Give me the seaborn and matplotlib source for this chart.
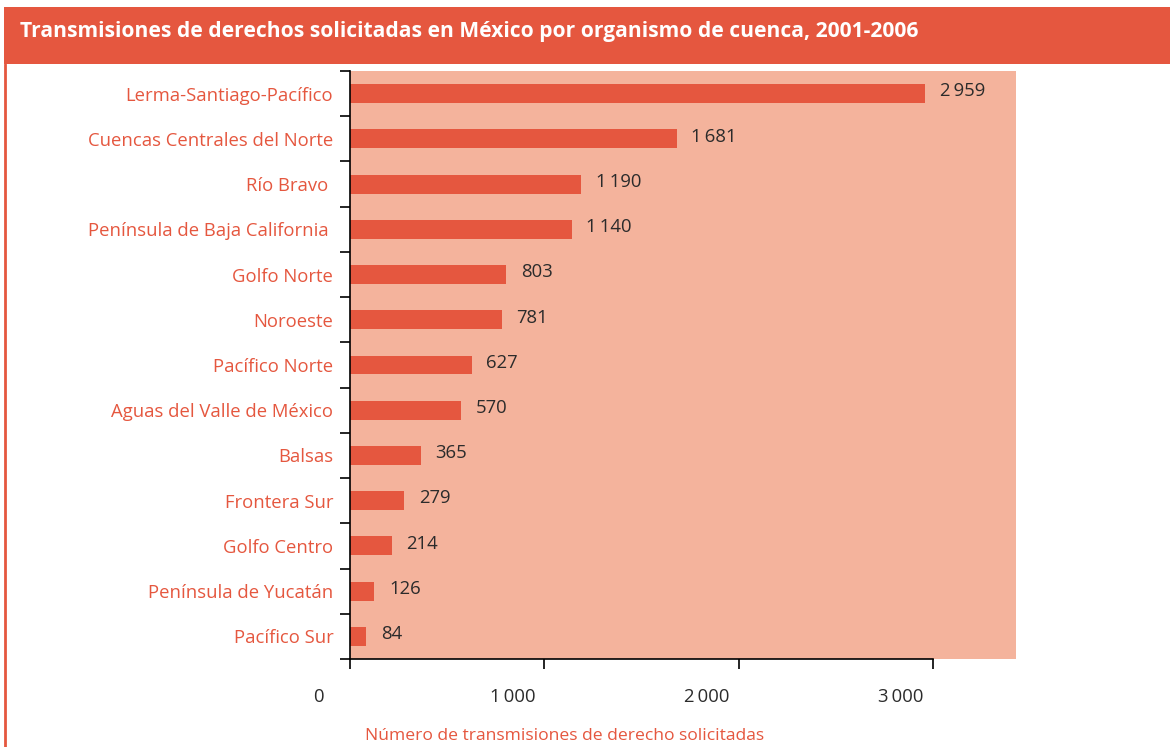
import matplotlib
matplotlib.use('Agg')
import matplotlib.pyplot as plt
import matplotlib.transforms as mtransforms
from matplotlib.patches import Rectangle
from matplotlib.lines import Line2D
import pandas as pd
import seaborn as sns

# Data
basins = ['Lerma-Santiago-Pacífico', 'Cuencas Centrales del Norte', 'Río Bravo ',
          'Península de Baja California ', 'Golfo Norte', 'Noroeste', 'Pacífico Norte',
          'Aguas del Valle de México', 'Balsas', 'Frontera Sur', 'Golfo Centro',
          'Península de Yucatán', 'Pacífico Sur']
requests = [2959, 1681, 1190, 1140, 803, 781, 627, 570, 365, 279, 214, 126, 84]
x_ticks = [0, 1000, 2000, 3000]

RED = '#E5573F'
SALMON = '#F4B39C'
DARK = '#2b2b2b'

df = pd.DataFrame({'basin': basins, 'value': requests})

sns.set_theme(style='white')
plt.rcParams['font.family'] = ['Open Sans', 'DejaVu Sans']

fig = plt.figure(figsize=(11.7, 7.47), dpi=100)
W, H = 1170, 747

# Title band and left border line
fig.patches.append(Rectangle((4 / W, 1 - 64 / H), 1 - 4 / W, 57 / H, transform=fig.transFigure,
                             facecolor=RED, edgecolor='none', zorder=0))
fig.lines.append(Line2D([5 / W, 5 / W], [0, 1 - 64 / H], transform=fig.transFigure,
                        color=RED, linewidth=2))
fig.text(20 / W, 1 - 32 / H, 'Transmisiones de derechos solicitadas en México por organismo de cuenca, 2001-2006',
         color='white', fontsize=15.1, fontweight='bold', va='center', ha='left')

ax = fig.add_axes([350 / W, 1 - 659 / H, 666 / W, 588 / H])
ax.set_facecolor(SALMON)

sns.barplot(data=df, x='value', y='basin', orient='h', color=RED, saturation=1,
            width=0.42, edgecolor='none', linewidth=0, ax=ax)

ax.set_xlim(0, 3427)
ax.set_ylim(len(basins) - 0.5, -0.5)

# value labels
for i, v in enumerate(requests):
    lab = f'{v:,}'.replace(',', '\u2009')
    ax.text(v + 75, i - 0.05, lab, color=DARK, fontsize=13.3, va='center', ha='left')

# y axis: ticks on boundaries, labels at centers
ax.set_yticks([i - 0.5 for i in range(len(basins) + 1)])
ax.set_yticklabels([])
ax.set_yticks(range(len(basins)), minor=True)
ax.set_yticklabels(basins, minor=True, color=RED, fontsize=13.3)
ax.tick_params(axis='y', which='major', direction='out', length=7, width=1.2, color='black', left=True)
ax.tick_params(axis='y', which='minor', length=0, pad=12)

# x axis
ax.set_xticks(x_ticks)
ax.set_xticklabels([f'{t:,}'.replace(',', '\u2009') for t in x_ticks], color=DARK, fontsize=13.3)
ax.tick_params(axis='x', direction='out', length=7, width=1.2, color='black', bottom=True, pad=14)
offset = mtransforms.ScaledTranslation(-32 / 100, 0, fig.dpi_scale_trans)
for lbl in ax.get_xticklabels():
    lbl.set_transform(lbl.get_transform() + offset)

for s in ['top', 'right']:
    ax.spines[s].set_visible(False)
for s in ['left', 'bottom']:
    ax.spines[s].set_color('black')
    ax.spines[s].set_linewidth(1.2)
ax.spines['bottom'].set_bounds(0, 3000)
ax.set_xlabel('')
ax.set_ylabel('')

fig.text(565 / W, 1 - 736 / H, 'Número de transmisiones de derecho solicitadas',
         color=RED, fontsize=12.6, ha='center', va='center')

fig.savefig('out.png', dpi=100)
